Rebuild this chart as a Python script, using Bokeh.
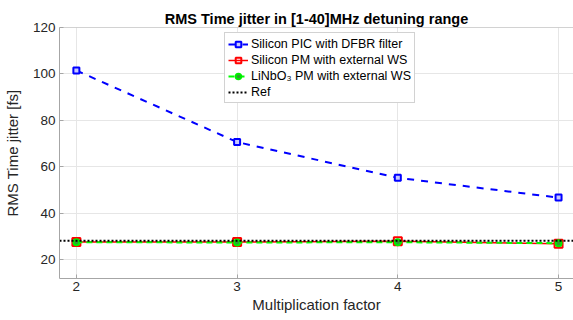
from bokeh.plotting import figure
from bokeh.models import Range1d, Legend, LegendItem, FixedTicker, Span
from bokeh.embed import file_html
from bokeh.resources import INLINE

# data
factors = [2, 3, 4, 5]
si_pic_dfbr = [101.5, 70.7, 55.3, 46.8]
si_pm_ws = [27.7, 27.7, 28.0, 26.9]
linbo3_pm_ws = [27.6, 27.5, 27.6, 27.2]
ref_value = 28.2
x_lo, x_hi = 1.895, 5.093
y_lo, y_hi = 12, 120
y_ticks = [20, 40, 60, 80, 100, 120]
x_ticks = [2, 3, 4, 5]

FONT = "Liberation Sans"

p = figure(width=573, height=320, output_backend="svg", toolbar_location=None,
           x_range=Range1d(x_lo, x_hi), y_range=Range1d(y_lo, y_hi),
           min_border_left=58, min_border_right=0, min_border_top=27, min_border_bottom=42,
           title="RMS Time jitter in [1-40]MHz detuning range")

p.title.text_font = FONT
p.title.text_font_size = "14.5px"
p.title.text_font_style = "bold"
p.title.text_color = "#000000"
p.title.align = "center"
p.title.standoff = 2
p.title.offset = 4

p.outline_line_color = None
p.background_fill_color = "white"
p.border_fill_color = "white"

for ax in (p.xaxis[0], p.yaxis[0]):
    ax.axis_line_color = "#a6a6a6"
    ax.major_tick_line_color = "#a6a6a6"
    ax.major_tick_in = 4
    ax.major_tick_out = 0
    ax.minor_tick_line_color = None
    ax.major_label_text_font = FONT
    ax.major_label_text_font_size = "13.5px"
    ax.major_label_text_color = "#262626"
    ax.axis_label_text_font = FONT
    ax.axis_label_text_font_size = "15px"
    ax.axis_label_text_font_style = "normal"
    ax.axis_label_text_color = "#262626"

p.xaxis.ticker = FixedTicker(ticks=x_ticks)
p.yaxis.ticker = FixedTicker(ticks=y_ticks)
p.xaxis.axis_label = "Multiplication factor"
p.yaxis.axis_label = "RMS Time jitter [fs]"
p.xaxis.major_label_standoff = 3
p.xaxis.axis_label_standoff = 2
p.yaxis.major_label_standoff = 4
p.yaxis.axis_label_standoff = 9

p.grid.grid_line_color = "#e6e6e6"
p.grid.grid_line_width = 1

# top box edge (right edge lies outside the visible window in the reference)
p.add_layout(Span(location=y_hi, dimension="width", line_color="#a6a6a6", line_width=1))

l1 = p.line(factors, si_pic_dfbr, line_color="#0000ff", line_width=2, line_dash="7 7")
m1 = p.scatter(factors, si_pic_dfbr, marker="square", size=6, line_color="#0000ff",
               line_width=2, fill_color="#c8c8ff")
l2 = p.line(factors, si_pm_ws, line_color="#ff0000", line_width=1.5)
m2 = p.scatter(factors, si_pm_ws, marker="square", size=8, line_color="#ff0000",
               line_width=2, fill_color=None)
l3 = p.line(factors, linbo3_pm_ws, line_color="#00ff00", line_width=2, line_dash="6 4")
m3 = p.scatter(factors, linbo3_pm_ws, marker="circle", size=6, line_color="#00ee00",
               line_width=2, fill_color="#339933")
l4 = p.line([x_lo, x_hi], [ref_value, ref_value], line_color="#000000", line_width=2,
            line_dash="2 2")

legend = Legend(items=[
    LegendItem(label="Silicon PIC with DFBR filter", renderers=[l1, m1]),
    LegendItem(label="Silicon PM with external WS", renderers=[l2, m2]),
    LegendItem(label="LiNbO₃ PM with external WS", renderers=[l3, m3]),
    LegendItem(label="Ref", renderers=[l4]),
], location=(165, 175))
legend.label_text_font = FONT
legend.label_text_font_size = "12.5px"
legend.label_text_color = "#000000"
legend.label_height = 15
legend.glyph_height = 14
legend.glyph_width = 20
legend.label_standoff = 3
legend.spacing = 1
legend.padding = 3
legend.margin = 0
legend.border_line_color = "#a6a6a6"
legend.border_line_width = 1
legend.background_fill_color = "white"
legend.background_fill_alpha = 1
p.add_layout(legend, "center")

open("out.html", "w").write(file_html(p, INLINE))
